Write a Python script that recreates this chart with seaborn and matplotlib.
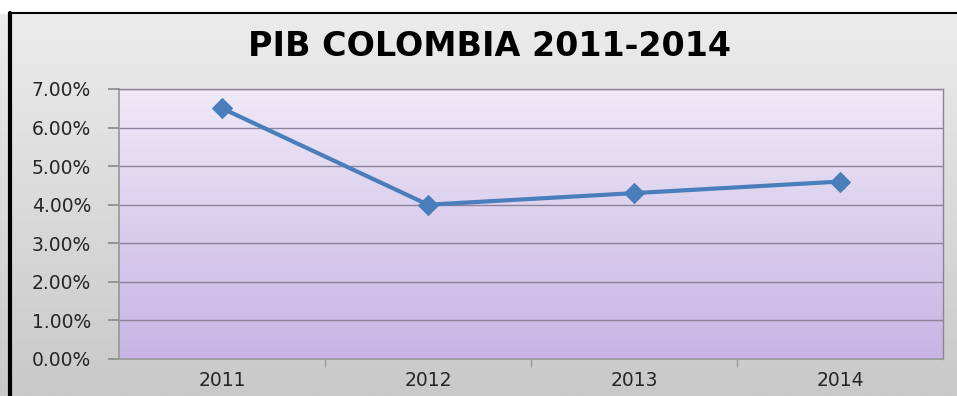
import numpy as np
import pandas as pd
import seaborn as sns
import matplotlib.pyplot as plt
from matplotlib.patches import Rectangle
from matplotlib.colors import LinearSegmentedColormap
from matplotlib.ticker import FuncFormatter, FixedLocator

years = ["2011", "2012", "2013", "2014"]
pib = [6.5, 4.0, 4.3, 4.6]
y_ticks = [0, 1, 2, 3, 4, 5, 6, 7]

sns.set_theme(style="white")
plt.rcParams['font.family'] = ['DejaVu Sans']

W, H = 957, 396
fig = plt.figure(figsize=(W / 100, H / 100), dpi=100)

# outer chart background: grey gradient
bg = fig.add_axes([0, 0, 1, 1], zorder=-10)
grad = np.linspace(0, 1, 256).reshape(-1, 1)
bg.imshow(grad, aspect="auto", cmap=LinearSegmentedColormap.from_list("g", ["#ededed", "#c9c9c9"]),
          extent=[0, 1, 0, 1], origin="upper")
bg.set_xlim(0, 1)
bg.set_ylim(0, 1)
bg.axis("off")
# white strip on top and frame
bg.add_patch(Rectangle((0, 1 - 13 / H), 1, 13 / H, color="white", zorder=2))
bg.plot([10 / W, 10 / W], [0, 1 - 13 / H], color="black", lw=3, zorder=3)
bg.plot([10 / W, 1], [1 - 13 / H, 1 - 13 / H], color="black", lw=1.5, zorder=3)

# plot area
l, r, t, b = 119, 943, 89, 359
ax = fig.add_axes([l / W, 1 - b / H, (r - l) / W, (b - t) / H])
ax.patch.set_alpha(0)

df = pd.DataFrame({"year": years, "pib": pib})
ax.imshow(grad, aspect="auto", cmap=LinearSegmentedColormap.from_list("p", ["#efe9f7", "#c7b4e4"]),
          extent=[-0.5, 3.5, 0, 7], origin="upper", zorder=0)

sns.lineplot(data=df, x="year", y="pib", ax=ax, color="#4a7ebb", lw=3,
             marker="D", markersize=10, markeredgecolor="#4a7ebb", zorder=5, sort=False)

ax.set_xlim(-0.5, 3.5)
ax.set_ylim(0, 7)
ax.set_yticks(y_ticks)
ax.yaxis.set_major_formatter(FuncFormatter(lambda v, p: f"{v:.2f}%"))
for v in y_ticks:
    ax.axhline(v, color="#8c829a", lw=1, zorder=1)
ax.set_xticks(range(len(years)))
ax.set_xticklabels(years)
ax.xaxis.set_minor_locator(FixedLocator([0.5, 1.5, 2.5]))
ax.tick_params(axis="x", which="major", length=0, pad=9, labelsize=13.5, labelcolor="#262626")
ax.tick_params(axis="x", which="minor", length=6, color="#999999", direction="out", bottom=True)
ax.tick_params(axis="y", length=8, color="#8c8c8c", labelsize=13.5, pad=12,
               labelcolor="#262626", left=True)
ax.set_xlabel("")
ax.set_ylabel("")
for side in ["top", "right"]:
    ax.spines[side].set_color("#8c829a")
    ax.spines[side].set_linewidth(1)
ax.spines["left"].set_color("#999999")
ax.spines["bottom"].set_color("#999999")

fig.text(490 / W, 1 - 47 / H, "PIB COLOMBIA 2011-2014", ha="center", va="center",
         fontsize=24, fontweight="bold", color="black")

fig.savefig("out.png", dpi=100)
